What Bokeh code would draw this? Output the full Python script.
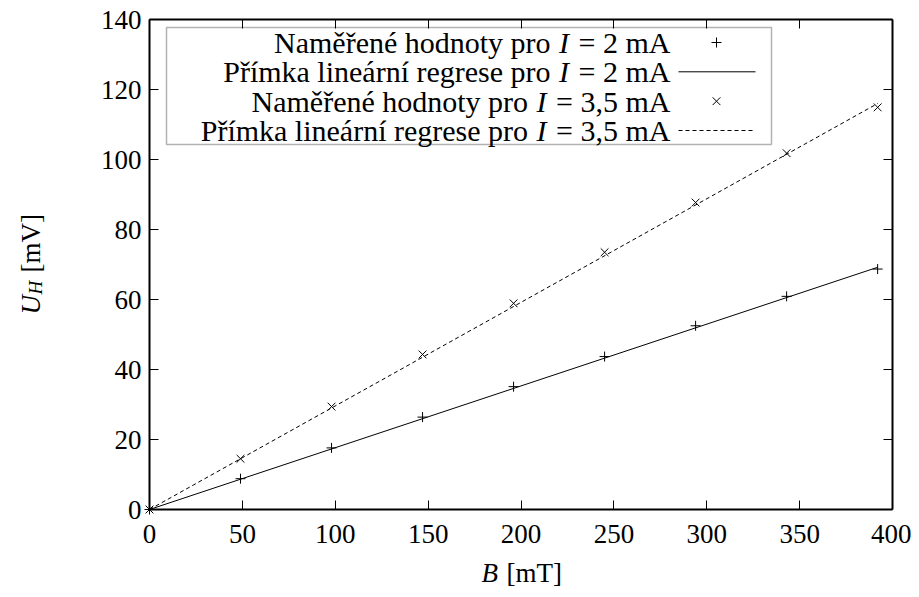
import numpy as np
from bokeh.plotting import figure
from bokeh.models import Range1d, LinearAxis, Label, BoxAnnotation, FixedTicker
from bokeh.embed import file_html
from bokeh.resources import INLINE

# ---------------- data ----------------
B_mT = [0, 49, 98, 147, 196, 245, 294, 343, 392]
U_2mA = [0, 8.8, 17.6, 26.4, 35.1, 43.7, 52.5, 60.9, 68.7]
U_35mA = [0, 14.5, 29.4, 44.3, 58.9, 73.5, 87.7, 101.8, 114.9]

fit_B = [0, 392]
fit_U_2mA = [0.0, 69.2]
fit_U_35mA = [0.0, 116.0]

x_ticks = [0, 50, 100, 150, 200, 250, 300, 350, 400]
y_ticks = [0, 20, 40, 60, 80, 100, 120, 140]

legend_left = ["Naměřené hodnoty pro", "Přímka lineární regrese pro",
               "Naměřené hodnoty pro", "Přímka lineární regrese pro"]
legend_right = ["= 2 mA", "= 2 mA", "= 3,5 mA", "= 3,5 mA"]

# ---------------- layout constants (canvas pixels) ----------------
FONT = "Liberation Serif"
FS = 27
LFS = 30
W, H = 911, 589
FL, FR, FT, FB = 149, 892, 19, 509   # where the plotting box lies on the canvas
X0, X1, Y0, Y1 = 0, 400, 0, 140
SX = (FR - FL) / (X1 - X0)
SY = (FB - FT) / (Y1 - Y0)


def px2x(px):
    return X0 + (px - FL) / SX


def py2y(py):
    return Y0 + (FB - py) / SY


# the frame spans the whole canvas; axes are pinned at the box edges
p = figure(width=W, height=H, output_backend="svg", toolbar_location=None,
           x_range=Range1d(px2x(0), px2x(W)), y_range=Range1d(py2y(H), py2y(0)),
           x_axis_location=None, y_axis_location=None,
           min_border_left=0, min_border_right=0, min_border_top=0, min_border_bottom=0)
p.background_fill_color = "white"
p.border_fill_color = "white"
p.outline_line_color = None
p.xgrid.visible = False
p.ygrid.visible = False


def make_axis(ticks, loc, bounds, labels):
    ax = LinearAxis(ticker=FixedTicker(ticks=ticks), fixed_location=loc, bounds=bounds)
    ax.axis_line_color = "black"
    ax.axis_line_width = 2
    ax.major_tick_in = 9
    ax.major_tick_out = 0
    ax.major_tick_line_color = "black"
    ax.major_tick_line_width = 1
    ax.minor_tick_line_color = None
    if labels:
        ax.major_label_text_font = FONT
        ax.major_label_text_font_size = f"{FS}px"
        ax.major_label_text_color = "black"
    else:
        ax.major_label_overrides = {t: "" for t in ticks}
        ax.major_label_text_font_size = "1px"
        ax.major_label_standoff = 0
    return ax


xb = make_axis(x_ticks, Y0, (X0, X1), True)
xb.major_label_standoff = 15
yl = make_axis(y_ticks, X0, (Y0, Y1), True)
yl.major_label_standoff = 8
p.add_layout(xb, "below")
p.add_layout(yl, "left")
p.add_layout(make_axis(x_ticks, Y1, (X0, X1), False), "above")
p.add_layout(make_axis(y_ticks, X1, (Y0, Y1), False), "right")

# data
p.line(fit_B, fit_U_2mA, line_color="black", line_width=1)
p.line(fit_B, fit_U_35mA, line_color="black", line_width=1, line_dash="4 3")
p.scatter(B_mT, U_2mA, marker="cross", size=10, line_color="black", line_width=1)
p.scatter(B_mT, U_35mA, marker="x", size=11, line_color="black", line_width=1)

# legend box
p.add_layout(BoxAnnotation(left=px2x(166), right=px2x(771), top=py2y(27), bottom=py2y(144),
                           fill_color=None, line_color="black", line_width=1.5))

row_py = [42, 71.3, 100.7, 130]
TXT_R = 670
w_right = [3.064 * LFS, 3.064 * LFS, 3.814 * LFS, 3.814 * LFS]
for i in range(4):
    y = py2y(row_py[i])
    rt = Label(x=px2x(TXT_R), y=y, text=legend_right[i], text_font=FONT,
               text_font_size=f"{LFS}px", text_align="right", text_baseline="middle",
               text_color="black")
    xi = TXT_R - w_right[i] - 0.32 * LFS
    it = Label(x=px2x(xi), y=y, text="I", text_font=FONT, text_font_style="italic",
               text_font_size=f"{LFS}px", text_align="right", text_baseline="middle",
               text_color="black")
    lt = Label(x=px2x(xi - 0.333 * LFS - 0.28 * LFS), y=y, text=legend_left[i], text_font=FONT,
               text_font_size=f"{LFS}px", text_align="right", text_baseline="middle",
               text_color="black")
    for l in (rt, it, lt):
        p.add_layout(l)

# legend samples
sx = [px2x(678), px2x(755)]
p.scatter([px2x(716)], [py2y(row_py[0])], marker="cross", size=10, line_color="black")
p.line(sx, [py2y(row_py[1])] * 2, line_color="black", line_width=1)
p.scatter([px2x(716)], [py2y(row_py[2])], marker="x", size=11, line_color="black")
p.line(sx, [py2y(row_py[3])] * 2, line_color="black", line_width=1, line_dash="4 3")

# x-axis label: B [mT]
p.add_layout(Label(x=px2x(481), y=py2y(572), text="B", text_color="black",
                   text_font=FONT, text_font_style="italic",
                   text_font_size=f"{FS}px", text_align="left", text_baseline="middle"))
p.add_layout(Label(x=px2x(506), y=py2y(572), text="[mT]", text_color="black",
                   text_font=FONT, text_font_size=f"{FS}px", text_align="left",
                   text_baseline="middle"))

# y-axis label: U_H [mV]
p.add_layout(Label(x=px2x(30), y=py2y(314), text="U", text_color="black",
                   text_font=FONT, text_font_style="italic",
                   text_font_size=f"{FS}px", text_align="left", text_baseline="middle",
                   angle=np.pi / 2))
p.add_layout(Label(x=px2x(35), y=py2y(294), text="H", text_color="black",
                   text_font=FONT, text_font_style="italic",
                   text_font_size="19px", text_align="left", text_baseline="middle",
                   angle=np.pi / 2))
p.add_layout(Label(x=px2x(30), y=py2y(272), text="[mV]", text_color="black",
                   text_font=FONT, text_font_size=f"{FS}px", text_align="left",
                   text_baseline="middle", angle=np.pi / 2))

open("out.html", "w").write(file_html(p, INLINE))
